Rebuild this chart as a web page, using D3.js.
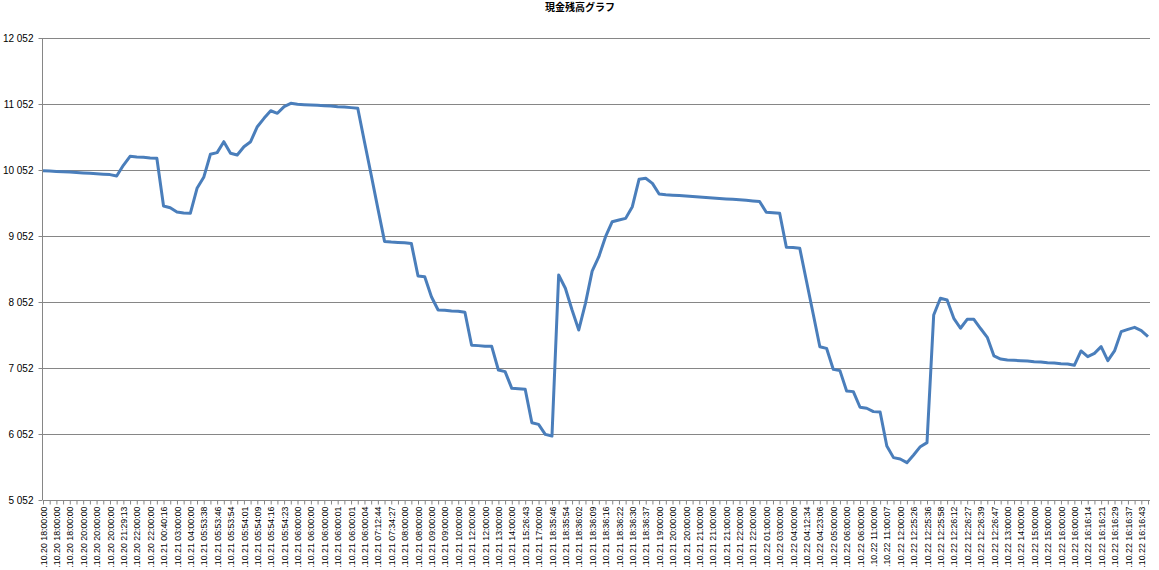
<!DOCTYPE html>
<html>
<head>
<meta charset="utf-8">
<script src="https://cdn.jsdelivr.net/npm/d3@7"></script>
<style>
  html, body { margin: 0; padding: 0; background: #ffffff; }
  svg { display: block; }
</style>
</head>
<body>
<svg id="chart" width="1159" height="570"></svg>
<script>
const title = "現金残高グラフ";

const yTicks = [5052, 6052, 7052, 8052, 9052, 10052, 11052, 12052];

// labels shown on every second category
const tickLabels = [
  ".10.20 18:00:00", ".10.20 18:00:00", ".10.20 18:00:00", ".10.20 20:00:00", ".10.20 20:00:00",
  ".10.20 20:00:00", ".10.20 21:29:13", ".10.20 22:00:00", ".10.20 22:00:00", ".10.21 00:40:16",
  ".10.21 03:00:00", ".10.21 04:00:00", ".10.21 05:53:38", ".10.21 05:53:46", ".10.21 05:53:54",
  ".10.21 05:54:01", ".10.21 05:54:09", ".10.21 05:54:16", ".10.21 05:54:23", ".10.21 06:00:00",
  ".10.21 06:00:00", ".10.21 06:00:00", ".10.21 06:00:01", ".10.21 06:00:01", ".10.21 06:00:04",
  ".10.21 07:12:44", ".10.21 07:34:27", ".10.21 08:00:00", ".10.21 08:00:00", ".10.21 09:00:00",
  ".10.21 09:00:00", ".10.21 10:00:00", ".10.21 12:00:00", ".10.21 12:00:00", ".10.21 13:00:00",
  ".10.21 14:00:00", ".10.21 15:26:43", ".10.21 17:00:00", ".10.21 18:35:46", ".10.21 18:35:54",
  ".10.21 18:36:02", ".10.21 18:36:09", ".10.21 18:36:16", ".10.21 18:36:22", ".10.21 18:36:30",
  ".10.21 18:36:37", ".10.21 19:00:00", ".10.21 20:00:00", ".10.21 20:00:00", ".10.21 21:00:00",
  ".10.21 21:00:00", ".10.21 21:00:00", ".10.21 22:00:00", ".10.21 22:00:00", ".10.22 01:00:00",
  ".10.22 03:00:00", ".10.22 04:00:00", ".10.22 04:12:34", ".10.22 04:23:06", ".10.22 05:00:00",
  ".10.22 06:00:00", ".10.22 06:00:00", ".10.22 11:00:00", ".10.22 11:00:07", ".10.22 12:00:00",
  ".10.22 12:25:26", ".10.22 12:25:36", ".10.22 12:25:58", ".10.22 12:26:12", ".10.22 12:26:27",
  ".10.22 12:26:39", ".10.22 12:26:47", ".10.22 13:00:00", ".10.22 14:00:00", ".10.22 15:00:00",
  ".10.22 15:00:00", ".10.22 16:00:00", ".10.22 16:00:00", ".10.22 16:16:14", ".10.22 16:16:21",
  ".10.22 16:16:29", ".10.22 16:16:37", ".10.22 16:16:43"
];

const cashValues = [
  10042, 10036, 10030, 10026, 10020, 10014, 10008, 10002, 9995, 9988,
  9982, 9960, 10123, 10260, 10249, 10244, 10234, 10229, 9507, 9481,
  9416, 9401, 9396, 9775, 9941, 10290, 10315, 10481, 10305, 10279,
  10405, 10481, 10708, 10835, 10950, 10911, 11012, 11062, 11047, 11042,
  11037, 11032, 11027, 11022, 11012, 11007, 10997, 10987, 10480, 9980,
  9470, 8970, 8960, 8955, 8950, 8940, 8446, 8436, 8132, 7931,
  7926, 7916, 7911, 7896, 7396, 7391, 7381, 7381, 7022, 6997,
  6744, 6739, 6729, 6223, 6198, 6046, 6021, 8461, 8260, 7931,
  7628, 8032, 8520, 8739, 9042, 9269, 9294, 9319, 9496, 9911,
  9926, 9850, 9688, 9678, 9671, 9664, 9657, 9650, 9642, 9636,
  9628, 9621, 9614, 9607, 9600, 9592, 9584, 9575, 9411, 9406,
  9396, 8881, 8876, 8866, 8370, 7875, 7375, 7350, 7033, 7012,
  6704, 6694, 6457, 6442, 6391, 6386, 5871, 5694, 5673, 5618,
  5734, 5860, 5921, 7855, 8108, 8082, 7805, 7654, 7790, 7790,
  7650, 7517, 7234, 7188, 7173, 7168, 7163, 7158, 7148, 7143,
  7133, 7128, 7118, 7113, 7093, 7310, 7224, 7274, 7375, 7163,
  7310, 7603, 7638, 7668, 7618, 7527
];

const svg = d3.select("#chart");
const plotLeft = 43, plotRight = 1148, gridRight = 1150, plotTop = 38, plotBottom = 500;
const axisColor = "#868686";

const x = d3.scalePoint().domain(d3.range(cashValues.length)).range([plotLeft, plotRight]);
const y = d3.scaleLinear().domain([d3.min(yTicks), d3.max(yTicks)]).range([plotBottom, plotTop]);

const locale = d3.formatLocale({decimal: ".", thousands: " ", grouping: [3], currency: ["", ""]});
const fmt = locale.format(",d");

// title
svg.append("text")
  .attr("x", 580).attr("y", 11)
  .attr("text-anchor", "middle")
  .attr("font-family", "'Noto Sans CJK JP', sans-serif")
  .attr("font-weight", "bold")
  .attr("font-size", "10px")
  .attr("fill", "#000")
  .text(title);

// gridlines
svg.append("g").selectAll("line").data(yTicks).join("line")
  .attr("x1", plotLeft).attr("x2", gridRight)
  .attr("y1", d => Math.round(y(d)) + 0.5).attr("y2", d => Math.round(y(d)) + 0.5)
  .attr("stroke", axisColor).attr("stroke-width", 1);

// y axis
const yAxis = svg.append("g")
  .attr("transform", `translate(${plotLeft - 0.5},0)`)
  .call(d3.axisLeft(y).tickValues(yTicks).tickSize(4).tickPadding(5).tickFormat(fmt));
yAxis.select(".domain").attr("stroke", axisColor).attr("d", `M0,${plotTop}V${plotBottom}`);
yAxis.selectAll(".tick line").attr("stroke", axisColor);
yAxis.selectAll("text")
  .attr("font-family", "'Liberation Sans', Arial, sans-serif")
  .attr("font-size", "10px").attr("fill", "#000");

// x axis
const xAxis = svg.append("g")
  .attr("transform", `translate(0,${plotBottom + 0.5})`)
  .call(d3.axisBottom(x).tickSize(4).tickSizeOuter(0)
    .tickFormat(i => (i % 2 === 0 && tickLabels[i / 2] !== undefined) ? tickLabels[i / 2] : ""));
xAxis.select(".domain").attr("stroke", axisColor).attr("d", `M${plotLeft},0H${gridRight}`);
xAxis.selectAll(".tick line").attr("stroke", axisColor);
xAxis.selectAll("text")
  .attr("font-family", "'Liberation Sans', Arial, sans-serif")
  .attr("font-size", "8.8px").attr("fill", "#000")
  .attr("text-anchor", "end")
  .attr("transform", "rotate(-90)")
  .attr("x", -6).attr("y", 0).attr("dy", "0.35em");

// line
const line = d3.line().x((d, i) => x(i)).y(d => y(d));
svg.append("path")
  .datum(cashValues)
  .attr("d", line)
  .attr("fill", "none")
  .attr("stroke", "#4a7ebb")
  .attr("stroke-width", 3)
  .attr("stroke-linejoin", "round");
</script>
</body>
</html>
